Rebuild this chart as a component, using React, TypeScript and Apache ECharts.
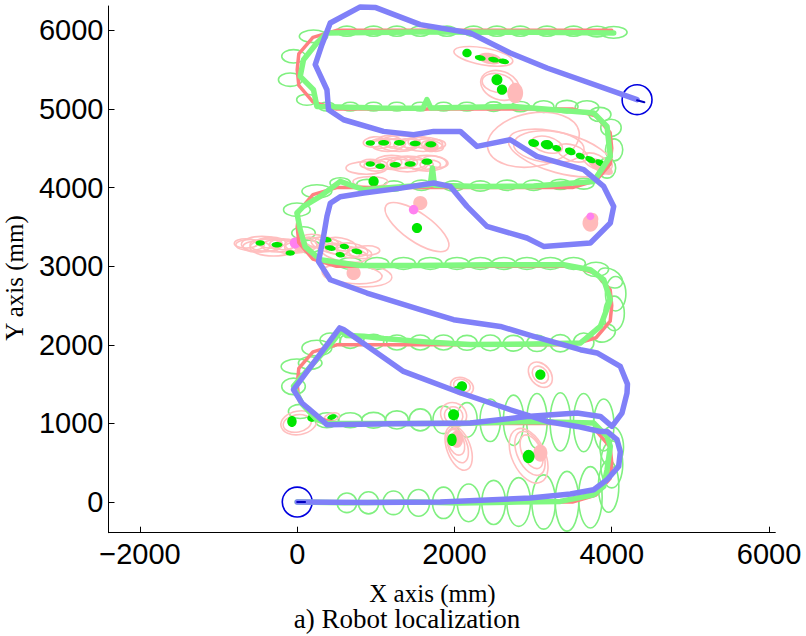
import React, { useEffect, useRef } from "react";
import * as echarts from "echarts";

// ---------- axis ticks ----------
const xTicks = [-2000, 0, 2000, 4000, 6000];
const yTicks = [0, 1000, 2000, 3000, 4000, 5000, 6000];

// ---------- odometry path (blue) ----------
const odometryPath: number[][] = [
  [0, 0], [900, -5], [1820, 0], [2964, 51], [3473, 102], [3770, 156], [3940, 284], [4088, 453],
  [4109, 640], [4067, 793], [3940, 898], [3855, 898], [3558, 962], [3177, 1025], [2710, 1174],
  [2074, 1390], [1352, 1662], [590, 2194], [540, 2215], [-47, 1429], [60, 1260], [335, 1025],
  [378, 983], [1200, 995], [2201, 1005], [2922, 1089], [3558, 1132], [3855, 1089], [4003, 962],
  [4130, 1132], [4194, 1386], [4200, 1500], [4109, 1725], [3813, 1896], [3601, 1938], [3006, 2107],
  [2583, 2234], [1989, 2319], [1565, 2447], [887, 2659], [420, 2828], [271, 3061], [335, 3379],
  [378, 3634], [420, 3800], [547, 3884], [845, 3931], [1300, 3990], [1735, 4058], [1947, 4015],
  [2159, 3761], [2413, 3506], [2922, 3359], [3134, 3252], [3728, 3295], [3982, 3550], [4025, 3760],
  [3898, 4015], [3643, 4228], [3049, 4397], [2710, 4609], [2286, 4524], [2074, 4715], [1735, 4715],
  [1480, 4673], [1098, 4715], [590, 4863], [398, 4991], [378, 5245], [229, 5564], [314, 5818],
  [420, 6094], [802, 6298], [1000, 6290], [1565, 6073], [2201, 5967], [2710, 5712], [3177, 5521],
  [4322, 5118],
];

// ---------- estimated path (green) ----------
const estimatedPath: number[][] = [
  [0, 0], [600, -10], [1500, 0], [2074, -13], [2800, 0], [3346, 8], [3770, 93], [3898, 199],
  [3940, 411], [3982, 707], [3940, 835], [3770, 1005], [2922, 1025], [2074, 1000], [1200, 1000],
  [378, 1000], [250, 1050], [60, 1250], [-47, 1471], [207, 1768], [420, 2000], [560, 2180],
  [620, 2120], [845, 2110], [1100, 2080], [1600, 2040], [2200, 2003], [3000, 2010], [3600, 2023],
  [3855, 2234], [3982, 2574], [3898, 2828], [3728, 2955], [3388, 3019], [2500, 3020], [1500, 3010],
  [800, 3010], [293, 3083], [100, 3250], [38, 3464], [-4, 3677], [80, 3761], [293, 3888],
  [547, 4079], [845, 3973], [1200, 4000], [1692, 4037], [1720, 4250], [1745, 4030], [2328, 4015],
  [3007, 4020], [3770, 4079], [3982, 4397], [3940, 4779], [3770, 4949], [2752, 5033], [1700, 5012],
  [1650, 5120], [1600, 5010], [1056, 5012], [250, 5033], [207, 5245], [38, 5415], [80, 5627],
  [250, 5839], [378, 5967], [1500, 5980], [3000, 5975], [4025, 5967],
];

// ---------- ground truth path (red) ----------
const truePath: number[][] = [
  [0, 0], [3500, 0], [3800, 90], [3980, 300], [4000, 500], [3980, 700], [3800, 910], [3500, 1000],
  [500, 1000], [200, 1090], [20, 1300], [0, 1500], [20, 1700], [200, 1910], [500, 2000],
  [3500, 2000], [3800, 2090], [3980, 2300], [4000, 2500], [3980, 2700], [3800, 2910], [3500, 3000],
  [500, 3000], [200, 3090], [20, 3300], [0, 3500], [20, 3700], [200, 3910], [500, 4000],
  [3500, 4000], [3800, 4090], [3980, 4300], [4000, 4500], [3980, 4700], [3800, 4910], [3500, 5000],
  [500, 5000], [200, 5090], [20, 5300], [0, 5500], [20, 5700], [200, 5910], [500, 6000],
  [4000, 6000],
];

// ---------- robot pose covariance ellipses: [cx, cy, rx, ry, angleDeg] ----------
const poseEllipses: number[][] = [
  // row 0
  [632, -10, 125, 125, 0], [907, -10, 130, 140, 0], [1225, -10, 135, 150, 0], [1543, -10, 140, 170, 0],
  [1861, -10, 140, 200, 0], [2180, -10, 145, 240, 0], [2498, -5, 150, 280, 0], [2816, 0, 150, 310, 0],
  [3134, 0, 150, 345, 0], [3431, 10, 150, 380, 0], [3728, 60, 150, 390, 0], [3960, 200, 130, 330, 0],
  [4000, 480, 140, 300, 0], [4000, 700, 150, 260, 0],
  // row 1000
  [378, 1040, 150, 95, 0], [674, 1040, 150, 95, 0], [971, 1040, 150, 100, 0], [1268, 1045, 145, 115, 0],
  [1565, 1045, 140, 140, 0], [1861, 1045, 135, 175, 0], [2159, 1045, 130, 220, 0], [2455, 1040, 130, 270, 0],
  [2752, 1040, 130, 320, 0], [3049, 1030, 130, 350, 0], [3346, 1020, 130, 370, 0], [3643, 1010, 130, 370, 0],
  [3898, 980, 130, 330, 0],
  // left turn 1000-2000
  [38, 1153, 150, 90, 0], [-47, 1471, 150, 105, 0], [-4, 1725, 200, 95, 0], [165, 1768, 150, 80, 0],
  [250, 1959, 190, 100, 0],
  // row 2000
  [420, 2060, 130, 90, 0], [674, 2050, 130, 95, 0], [971, 2040, 130, 95, 0], [1268, 2030, 130, 95, 0],
  [1565, 2030, 130, 95, 0], [1861, 2030, 130, 95, 0], [2159, 2025, 130, 95, 0], [2455, 2025, 130, 100, 0],
  [2752, 2020, 130, 100, 0], [3049, 2020, 130, 105, 0], [3346, 2020, 130, 110, 0], [3643, 2030, 130, 120, 0],
  // right turn 2000-3000
  [3900, 2150, 150, 110, 20], [4030, 2400, 130, 220, 0], [4050, 2650, 130, 220, 0], [3980, 2850, 170, 110, -30],
  [3800, 2960, 160, 90, 0],
  // row 3000
  [3515, 3035, 150, 75, 0], [3219, 3035, 150, 75, 0], [2922, 3035, 150, 75, 0], [2625, 3035, 150, 75, 0],
  [2328, 3035, 150, 75, 0], [2032, 3035, 150, 75, 0], [1692, 3035, 150, 75, 0], [1352, 3035, 150, 75, 0],
  [1014, 3035, 150, 75, 0], [674, 3035, 150, 75, 0],
  // left turn 3000-4000
  [150, 3250, 150, 80, 0], [80, 3422, 150, 80, 0], [-4, 3719, 170, 85, 0], [250, 3952, 190, 85, 0],
  // row 4000
  [547, 4060, 130, 65, 0], [887, 4040, 130, 65, 0], [1230, 4020, 130, 65, 0], [1580, 4030, 130, 65, 0],
  [1990, 4020, 130, 65, 0], [2328, 4020, 130, 65, 0], [2668, 4030, 130, 65, 0], [3007, 4030, 130, 65, 0],
  [3346, 4040, 130, 65, 0], [3643, 4050, 130, 70, 0],
  // right turn 4000-5000
  [3940, 4250, 110, 130, 0], [4030, 4480, 110, 140, 0], [3990, 4760, 130, 110, 0], [3850, 4930, 140, 90, 0],
  // row 5000
  [378, 5030, 105, 55, 0], [674, 5030, 105, 55, 0], [971, 5030, 105, 55, 0], [1268, 5030, 105, 55, 0],
  [1565, 5030, 105, 55, 0], [1861, 5030, 105, 55, 0], [2159, 5030, 110, 55, 0], [2498, 5030, 110, 60, 0],
  [2837, 5030, 120, 65, 0], [3134, 5030, 130, 75, 0], [3431, 5030, 140, 80, 0], [3685, 5020, 150, 85, 0],
  // left turn 5000-6000
  [123, 5118, 130, 70, 0], [-89, 5373, 150, 85, 0], [-47, 5670, 150, 85, 0], [207, 5924, 180, 80, 0],
  // row 6000
  [632, 5990, 127, 64, 0], [971, 5990, 127, 64, 0], [1268, 5990, 127, 64, 0], [1565, 5990, 127, 64, 0],
  [1904, 5990, 127, 64, 0], [2243, 5990, 127, 64, 0], [2540, 5990, 127, 64, 0], [2837, 5990, 127, 64, 0],
  [3177, 5990, 127, 64, 0], [3515, 5990, 127, 64, 0], [3813, 5985, 140, 68, 0], [4025, 5975, 170, 75, 0],
];

// ---------- landmark covariance ellipses: [cx, cy, rx, ry, angleDeg] ----------
const landmarkEllipses: number[][] = [
  [2367, 5670, 380, 108, -10], [2580, 5300, 254, 180, -20], [2550, 5330, 200, 120, -10],
  [3003, 4609, 590, 340, 10], [3346, 4440, 680, 255, -15], [3200, 4520, 450, 200, -5],
  [3177, 4546, 200, 100, -15], [3500, 4440, 200, 100, -20], [3800, 4330, 180, 90, -25],
  // dense cluster, upper row
  [1056, 4560, 130, 60, 0], [1247, 4560, 130, 60, 0], [1438, 4565, 130, 60, 0], [1628, 4560, 130, 60, 0],
  [1756, 4550, 130, 60, 0], [1150, 4540, 200, 80, 0], [980, 4580, 140, 65, 5], [1180, 4590, 150, 70, -5],
  [1380, 4550, 150, 70, 5], [1560, 4580, 150, 70, 0], [1720, 4530, 140, 65, -10], [1300, 4560, 260, 100, 0],
  [1600, 4550, 250, 90, 0],
  // dense cluster, lower row
  [929, 4300, 130, 60, 0], [1120, 4300, 130, 60, 0], [1310, 4300, 130, 60, 0], [1501, 4300, 130, 60, 0],
  [1692, 4290, 130, 60, 0], [1200, 4320, 220, 90, 0], [1000, 4280, 150, 70, 0], [1180, 4310, 150, 70, 5],
  [1380, 4320, 150, 70, 0], [1580, 4290, 150, 70, 0], [1760, 4330, 160, 70, -10], [1400, 4300, 260, 100, 0],
  [1650, 4310, 250, 100, 0], [880, 4250, 260, 80, 0],
  [930, 4075, 220, 65, 0],
  [1523, 3497, 480, 180, -35],
  // left cluster
  [-600, 3270, 180, 70, 0], [-400, 3270, 200, 80, 0], [-250, 3260, 200, 80, 0], [-100, 3250, 200, 90, 0],
  [50, 3270, 200, 90, 0], [-450, 3280, 260, 100, 0], [-650, 3290, 150, 60, 0], [-520, 3250, 170, 70, 0],
  [-330, 3300, 180, 70, 0], [-180, 3280, 170, 70, 0], [0, 3240, 160, 70, 0], [150, 3300, 150, 70, 0],
  [-300, 3240, 300, 110, 0],
  [378, 3300, 150, 70, -10], [500, 3220, 150, 70, -10], [650, 3180, 150, 70, -10], [800, 3170, 150, 70, -10],
  [420, 3260, 250, 90, -15], [250, 3320, 200, 80, -10], [550, 3280, 200, 80, -10], [700, 3210, 200, 80, -10],
  [900, 3200, 150, 60, 0], [600, 3160, 300, 100, -10],
  [760, 2892, 445, 150, -5], [700, 2900, 380, 120, -5],
  [3092, 1620, 180, 130, -50], [3092, 1620, 120, 90, -50],
  [2095, 1471, 150, 110, -20], [2095, 1480, 110, 80, -20],
  [1989, 1111, 170, 150, -30], [1989, 1100, 120, 110, -30],
  [2053, 687, 295, 150, -70], [2040, 720, 230, 120, -70], [2020, 760, 170, 100, -70],
  [2943, 589, 370, 210, -65], [2960, 620, 300, 160, -65], [2980, 640, 230, 120, -65],
  [20, 1008, 230, 150, 10], [0, 1000, 180, 110, 10], [441, 1081, 100, 50, 15],
];

// ---------- filled landmark estimates ----------
const pinkBlobs: number[][] = [
  [2773, 5203, 100, 130, 0], [2450, 5640, 150, 70, -10], [3855, 4270, 180, 70, -30], [1700, 4520, 100, 70, 0],
  [1565, 3804, 90, 90, 0], [3728, 3549, 100, 110, 0], [3750, 3600, 80, 80, 0], [38, 3273, 90, 90, 0],
  [717, 2913, 90, 90, 0], [3092, 623, 90, 110, 0], [2030, 800, 80, 110, 0],
];
const magentaDots: number[][] = [
  [1480, 3719, 60, 60, 0], [-25, 3295, 70, 70, 0], [3728, 3634, 50, 50, 0],
];
const greenDots: number[][] = [
  [2159, 5712, 60, 55, 0], [2328, 5649, 70, 35, -10], [2498, 5627, 70, 35, -10], [2625, 5606, 70, 35, -10],
  [2540, 5373, 70, 70, 0], [2604, 5245, 65, 65, 0],
  [3177, 4546, 80, 60, -10], [3007, 4567, 70, 50, -10], [3300, 4500, 60, 40, -15], [3473, 4460, 70, 45, -20],
  [3600, 4400, 60, 40, -20], [3728, 4355, 70, 40, -25], [3855, 4313, 70, 40, -25],
  [929, 4567, 60, 35, 0], [1100, 4570, 70, 35, 0], [1300, 4570, 70, 35, 0], [1500, 4560, 70, 35, 0],
  [1700, 4550, 70, 40, 0],
  [929, 4300, 60, 35, 0], [1056, 4270, 60, 35, 0], [1247, 4290, 70, 35, 0], [1438, 4300, 70, 35, 0],
  [1650, 4330, 70, 40, 0],
  [971, 4079, 65, 65, 0], [1523, 3486, 65, 65, 0],
  [-471, 3295, 60, 35, 0], [-258, 3273, 70, 35, 0], [-89, 3168, 60, 35, 0], [378, 3337, 60, 35, -10],
  [420, 3231, 70, 35, -10], [547, 3146, 60, 35, -10], [759, 3188, 70, 35, -10], [600, 3250, 60, 35, -10],
  [3092, 1620, 65, 65, 0], [2095, 1471, 65, 65, 0], [2030, 1440, 40, 40, 0], [1989, 1111, 70, 70, 0],
  [1968, 793, 60, 80, 0], [2943, 580, 75, 85, 0], [-67, 1025, 60, 70, 0], [187, 1068, 60, 50, 0],
  [441, 1081, 60, 35, 15],
];

// ---------- start / end markers ----------
const poseCircles: number[][] = [
  [0, 0, 190, 190, 0], [4322, 5118, 190, 190, 0],
];
const headingStart: number[][] = [[0, 0], [100, 0]];
const headingEnd: number[][] = [[4322, 5110], [4415, 5085]];

function ellipseSeries(name: string, data: number[][], stroke: string | null, fill: string | null, lw: number) {
  return {
    type: "custom",
    name,
    silent: true,
    data,
    renderItem: (_params: any, api: any) => {
      const c = api.coord([api.value(0), api.value(1)]);
      const s = api.size([api.value(2), api.value(3)]);
      return {
        type: "ellipse",
        x: c[0],
        y: c[1],
        rotation: (api.value(4) * Math.PI) / 180,
        shape: { cx: 0, cy: 0, rx: Math.abs(s[0]), ry: Math.abs(s[1]) },
        style: {
          fill: fill || "none",
          stroke: stroke || "none",
          lineWidth: lw,
        },
      };
    },
  };
}

function lineSeries(name: string, data: number[][], color: string, width: number) {
  return {
    type: "line",
    name,
    data,
    silent: true,
    symbol: "none",
    showSymbol: false,
    lineStyle: { color, width, join: "round", cap: "round" },
  };
}

const fmt = (v: number) => (v < 0 ? "\u2212" + String(-v) : String(v));

export default function App() {
  const ref = useRef<HTMLDivElement>(null);
  useEffect(() => {
    if (!ref.current) return;
    const chart = echarts.init(ref.current, null, { renderer: "svg" });
    const axisCommon = {
      type: "value",
      splitLine: { show: false },
      axisLine: { show: true, onZero: false, lineStyle: { color: "#000", width: 1 } },
      axisTick: { show: true, inside: true, length: 6, lineStyle: { color: "#000", width: 1 } },
    };
    chart.setOption({
      animation: false,
      backgroundColor: "#fff",
      grid: { left: 108.5, right: 30.7, top: 6, bottom: 103.3, containLabel: false },
      xAxis: {
        ...axisCommon,
        min: -2400,
        max: 6080,
        axisTick: { ...axisCommon.axisTick, customValues: xTicks },
        axisLabel: {
          customValues: xTicks,
          formatter: fmt,
          fontFamily: "Liberation Sans",
          fontSize: 29,
          color: "#000",
          margin: 7,
        },
      },
      yAxis: {
        ...axisCommon,
        min: -390,
        max: 6310,
        axisTick: { ...axisCommon.axisTick, customValues: yTicks },
        axisLabel: {
          customValues: yTicks,
          formatter: fmt,
          fontFamily: "Liberation Sans",
          fontSize: 29,
          color: "#000",
          margin: 5,
        },
      },
      graphic: [
        {
          type: "text",
          x: 432.5,
          y: 593,
          style: { text: "X axis (mm)", fontFamily: "Liberation Serif", fontSize: 25, lineHeight: 20, fill: "#000", align: "center", verticalAlign: "middle" },
        },
        {
          type: "text",
          x: 407,
          y: 619,
          style: { text: "a) Robot localization", fontFamily: "Liberation Serif", fontSize: 27, lineHeight: 22, fill: "#000", align: "center", verticalAlign: "middle" },
        },
        {
          type: "text",
          x: 14,
          y: 278,
          rotation: Math.PI / 2,
          style: { text: "Y axis (mm)", fontFamily: "Liberation Serif", fontSize: 25, fill: "#000", align: "center", verticalAlign: "middle" },
        },
      ],
      series: [
        ellipseSeries("poseCov", poseEllipses, "#80F080", null, 1.6),
        lineSeries("truth", truePath, "#FF8080", 3.5),
        lineSeries("estimate", estimatedPath, "#80F880", 5.5),
        ellipseSeries("landmarkCov", landmarkEllipses, "#FFBFBF", null, 1.6),
        ellipseSeries("pinkBlobs", pinkBlobs, null, "#FFBABA", 0),
        lineSeries("odometry", odometryPath, "#8080F8", 5.5),
        ellipseSeries("greenDots", greenDots, null, "#00E600", 0),
        ellipseSeries("magentaDots", magentaDots, null, "#FF80F0", 0),
        ellipseSeries("poseCircles", poseCircles, "#0000E0", null, 1.6),
        lineSeries("headingStart", headingStart, "#0000C0", 2),
        lineSeries("headingEnd", headingEnd, "#0000C0", 2),
      ],
    });
    return () => chart.dispose();
  }, []);
  return <div ref={ref} style={{ position: "fixed", left: 0, top: 0, width: 806, height: 636, background: "#fff" }} />;
}
